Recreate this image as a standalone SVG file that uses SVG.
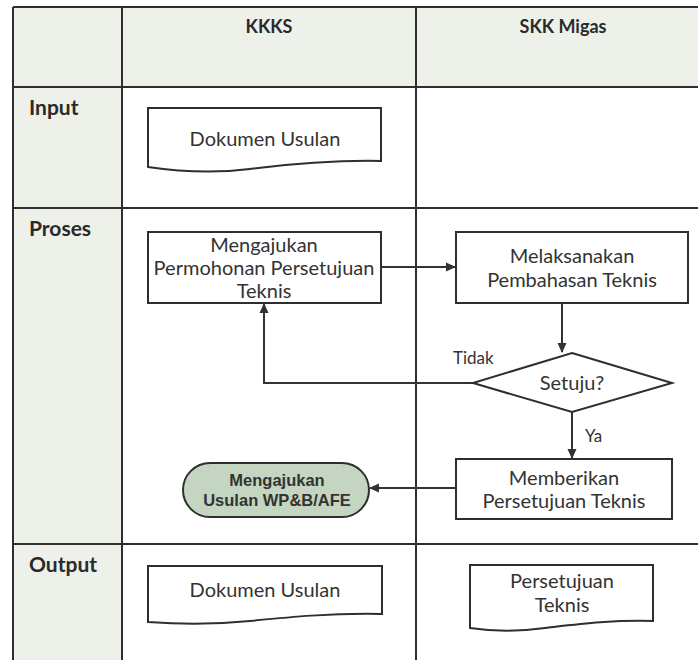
<svg xmlns="http://www.w3.org/2000/svg" width="698" height="660" viewBox="0 0 698 660">
<defs>
<style>
.grid{stroke:#2e2e2e;stroke-width:2;fill:none}
.shape{stroke:#2e2e2e;stroke-width:2;fill:#ffffff}
.conn{stroke:#333;stroke-width:2;fill:none}
.t{font-family:Lato,"Liberation Sans",sans-serif;font-size:20px;fill:#333;text-anchor:middle}
.lbl{font-family:Lato,"Liberation Sans",sans-serif;font-size:17px;fill:#333}
.hd{font-family:Lato,"Liberation Sans",sans-serif;font-size:18px;font-weight:bold;fill:#2a2a2a;text-anchor:middle}
.row{font-family:Lato,"Liberation Sans",sans-serif;font-size:21px;font-weight:bold;fill:#2a2a2a}
.term{font-family:"Liberation Sans",Arial,sans-serif;font-size:16.5px;font-weight:bold;fill:#333;text-anchor:middle}
</style>
<marker id="arr" markerWidth="10" markerHeight="10" refX="9" refY="5" orient="auto" markerUnits="userSpaceOnUse">
<path d="M0,0.5 L10,5 L0,9.5 Z" fill="#333"/>
</marker>
</defs>
<rect x="0" y="0" width="698" height="660" fill="#ffffff"/>
<g id="table">
<rect x="13" y="7" width="700" height="80" fill="#eef1ea"/>
<rect x="13" y="87" width="109" height="580" fill="#eef1ea"/>
<path class="grid" d="M13,7 H710 M13,87 H710 M13,208 H710 M13,544 H710 M13,7 V662 M122,7 V662 M416,7 V662"/>
<text class="hd" x="269" y="33">KKKS</text>
<text class="hd" x="563" y="33">SKK Migas</text>
<text class="row" x="29" y="115">Input</text>
<text class="row" x="29" y="236">Proses</text>
<text class="row" x="29" y="572">Output</text>
</g>
<g id="connectors">
<path class="conn" d="M381,267 H455" marker-end="url(#arr)"/>
<path class="conn" d="M562,303 V352" marker-end="url(#arr)"/>
<path class="conn" d="M473,383 H264 V304" marker-end="url(#arr)"/>
<path class="conn" d="M572,412 V458" marker-end="url(#arr)"/>
<path class="conn" d="M456,488 H370" marker-end="url(#arr)"/>
<text class="lbl" x="453" y="364">Tidak</text>
<text class="lbl" x="585" y="442">Ya</text>
</g>
<g id="input-doc">
<path class="shape" d="M148,108 H381 V161 C330,160 290,164 250,169 C210,174 175,171 148,167 Z"/>
<text class="t" x="265" y="146">Dokumen Usulan</text>
</g>
<g id="mengajukan-permohonan">
<rect class="shape" x="148" y="232" width="233" height="71"/>
<text class="t" x="264" y="252">Mengajukan</text>
<text class="t" x="264" y="275">Permohonan Persetujuan</text>
<text class="t" x="264" y="298">Teknis</text>
</g>
<g id="melaksanakan">
<rect class="shape" x="456" y="232" width="232" height="71"/>
<text class="t" x="572" y="263">Melaksanakan</text>
<text class="t" x="572" y="287">Pembahasan Teknis</text>
</g>
<g id="setuju">
<path class="shape" d="M572,353 L672,383 L572,412 L473,383 Z"/>
<text class="t" x="572" y="390">Setuju?</text>
</g>
<g id="memberikan">
<rect class="shape" x="456" y="459" width="216" height="60"/>
<text class="t" x="564" y="485">Memberikan</text>
<text class="t" x="564" y="508">Persetujuan Teknis</text>
</g>
<g id="usulan-wpb">
<rect x="183" y="463" width="186" height="54" rx="27" ry="27" fill="#c4d5c1" stroke="#2e2e2e" stroke-width="2"/>
<text class="term" x="277" y="486">Mengajukan</text>
<text class="term" x="277" y="506">Usulan WP&amp;B/AFE</text>
</g>
<g id="output-doc-kkks">
<path class="shape" d="M148,566 H382 V614 C330,613 290,617 250,621 C210,625 175,624 148,622 Z"/>
<text class="t" x="265" y="597">Dokumen Usulan</text>
</g>
<g id="output-doc-skk">
<path class="shape" d="M470,565 H653 V621 C610,620 580,624 545,628 C515,632 490,631 470,628 Z"/>
<text class="t" x="562" y="588">Persetujuan</text>
<text class="t" x="562" y="612">Teknis</text>
</g>
</svg>
